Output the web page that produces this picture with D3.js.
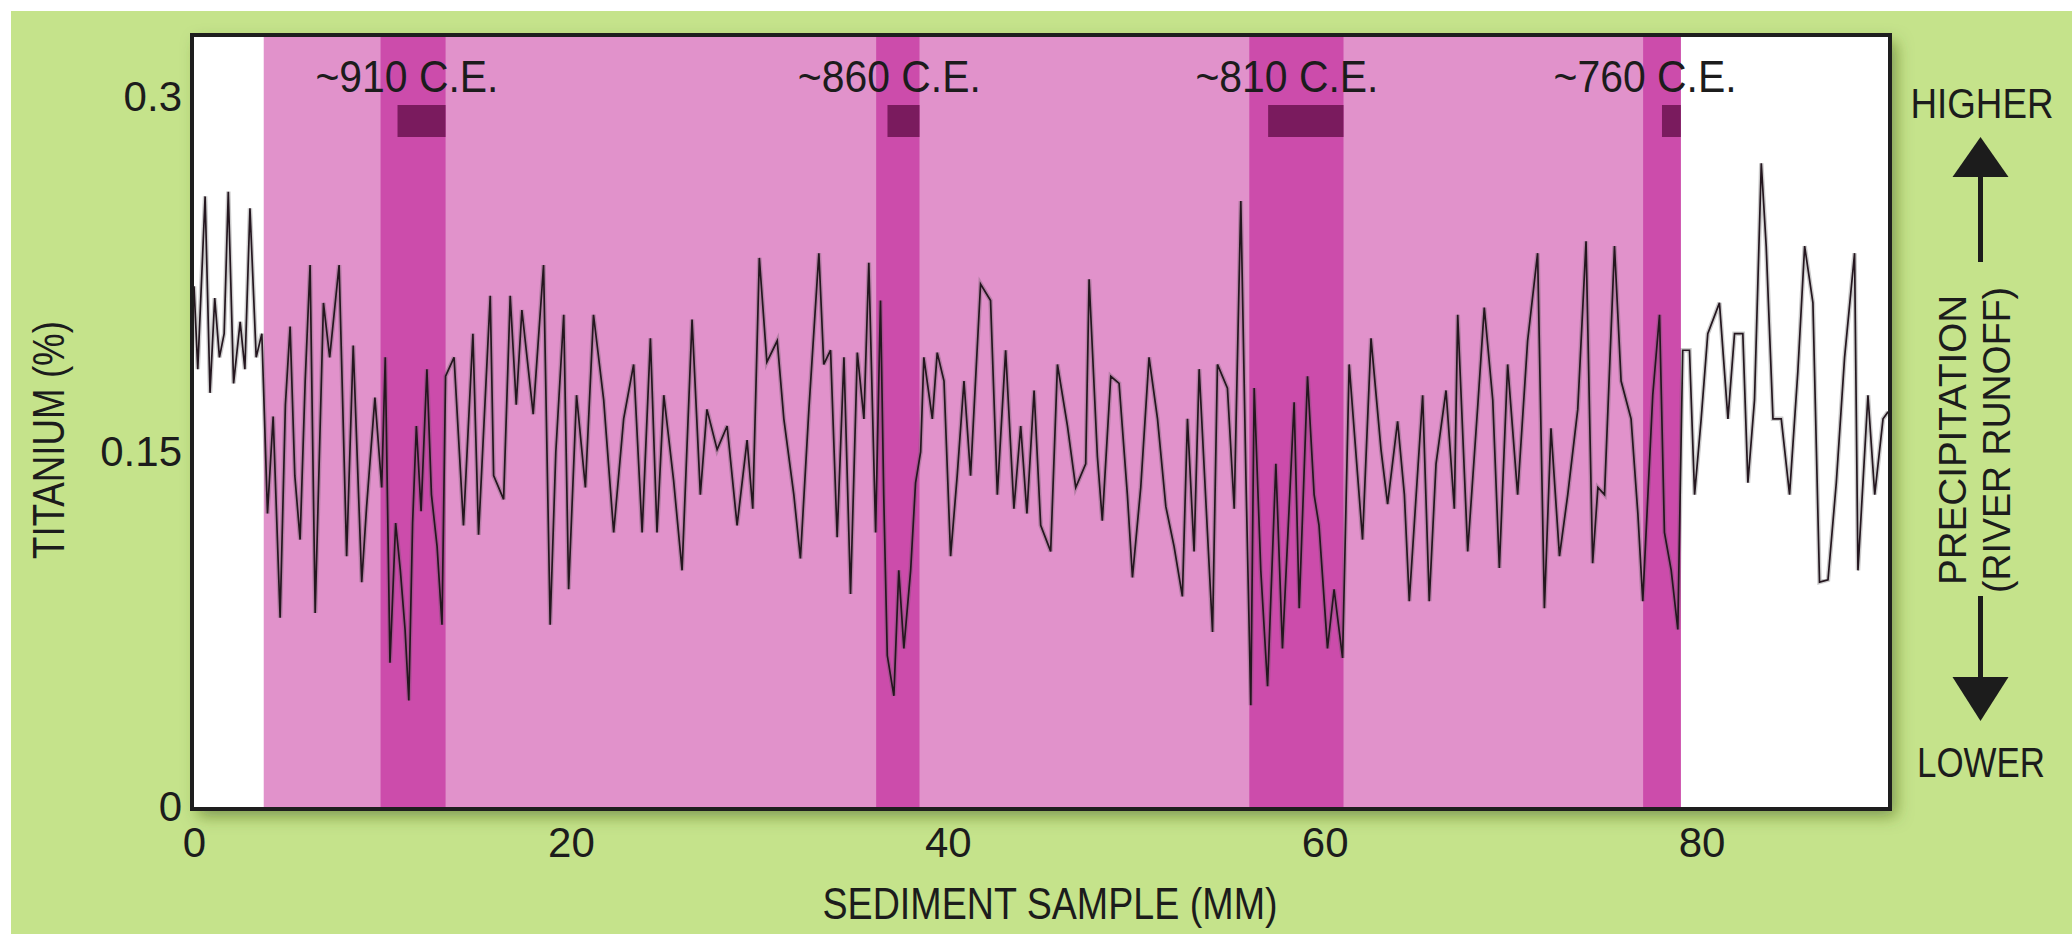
<!DOCTYPE html>
<html lang="en">
<head>
<meta charset="UTF-8">
<title>titanium</title>
<script src="https://d3js.org/d3.v7.min.js"></script>
<style>
  body { margin: 0; background: #fff; }
  text { font-family: "Liberation Sans", Arial, sans-serif; fill: #1c1c1c; }
</style>
</head>
<body>
<script>
// sediment depth (mm) and titanium (%)
var depthMM = [0.0, 0.2, 0.59, 0.85, 1.1, 1.35, 1.6, 1.82, 2.1, 2.45, 2.7, 2.97, 3.3, 3.6, 3.9, 4.2, 4.57, 4.85,
  5.1, 5.35, 5.63, 5.9, 6.16, 6.43, 6.87, 7.2, 7.7, 8.1, 8.45, 8.9, 9.16, 9.6, 9.96, 10.15, 10.4, 10.7, 10.95,
  11.2, 11.4, 11.6, 11.8, 12.05, 12.36, 12.6, 12.9, 13.16, 13.35, 13.8, 14.3, 14.8, 15.1, 15.72, 15.9, 16.43,
  16.78, 17.1, 17.4, 18.0, 18.55, 18.9, 19.2, 19.62, 19.88, 20.3, 20.77, 21.2, 21.74, 22.27, 22.8, 23.33, 23.78,
  24.22, 24.57, 24.93, 25.45, 25.9, 26.43, 26.87, 27.22, 27.76, 28.29, 28.82, 29.35, 29.65, 30.0, 30.4, 30.95,
  31.3, 31.83, 32.18, 32.63, 33.16, 33.42, 33.78, 34.13, 34.49, 34.84, 35.2, 35.55, 35.81, 36.17, 36.43, 36.6,
  36.79, 37.14, 37.4, 37.67, 38.03, 38.29, 38.56, 38.73, 39.18, 39.44, 39.8, 40.15, 40.5, 40.86, 41.21, 41.74,
  42.27, 42.63, 43.07, 43.51, 43.87, 44.2, 44.58, 44.93, 45.46, 45.82, 46.35, 46.79, 47.32, 47.5, 47.94, 48.2,
  48.65, 49.09, 49.53, 49.8, 50.24, 50.68, 51.13, 51.57, 52.01, 52.45, 52.72, 53.07, 53.34, 53.78, 54.05, 54.31,
  54.84, 55.2, 55.55, 55.82, 56.08, 56.26, 56.61, 56.97, 57.41, 57.76, 58.38, 58.65, 59.09, 59.44, 59.7, 60.15,
  60.5, 60.95, 61.3, 61.75, 62.01, 62.46, 62.99, 63.34, 63.87, 64.23, 64.49, 65.2, 65.55, 65.91, 66.44, 66.88,
  67.06, 67.59, 68.12, 68.47, 68.92, 69.27, 69.71, 70.24, 70.77, 71.3, 71.66, 72.01, 72.46, 72.9, 73.43, 73.87,
  74.22, 74.5, 74.85, 75.38, 75.73, 76.26, 76.62, 76.88, 77.41, 77.77, 78.03, 78.39, 78.74, 79.0, 79.36, 79.63,
  79.98, 80.33, 80.95, 81.4, 81.75, 82.19, 82.46, 82.81, 83.17, 83.43, 83.79, 84.23, 84.67, 85.11, 85.47, 85.91,
  86.26, 86.71, 87.15, 87.59, 88.12, 88.3, 88.83, 89.19, 89.63, 89.9];
var titanium = [0.22, 0.185, 0.258, 0.175, 0.215, 0.19, 0.2, 0.26, 0.179, 0.205, 0.185, 0.253, 0.19, 0.2, 0.124, 0.165, 0.08, 0.17,
  0.203, 0.14, 0.113, 0.18, 0.229, 0.082, 0.213, 0.19, 0.229, 0.106, 0.195, 0.095, 0.127, 0.173, 0.135, 0.19, 0.061, 0.12, 0.1,
  0.075, 0.045, 0.12, 0.161, 0.125, 0.185, 0.132, 0.11, 0.077, 0.182, 0.19, 0.119, 0.2, 0.115, 0.216, 0.14, 0.13,
  0.216, 0.17, 0.21, 0.166, 0.229, 0.077, 0.15, 0.208, 0.092, 0.174, 0.135, 0.208, 0.172, 0.116, 0.164, 0.187, 0.116,
  0.198, 0.116, 0.174, 0.138, 0.1, 0.206, 0.132, 0.168, 0.151, 0.161, 0.119, 0.155, 0.126, 0.232, 0.188, 0.197,
  0.164, 0.132, 0.105, 0.168, 0.234, 0.187, 0.193, 0.114, 0.19, 0.09, 0.192, 0.164, 0.23, 0.116, 0.214, 0.132,
  0.064, 0.047, 0.1, 0.067, 0.1, 0.137, 0.15, 0.19, 0.164, 0.192, 0.18, 0.106, 0.14, 0.18, 0.14, 0.221,
  0.214, 0.132, 0.193, 0.126, 0.161, 0.124, 0.176, 0.119, 0.108, 0.187, 0.161, 0.135, 0.145, 0.223, 0.148, 0.121,
  0.182, 0.179, 0.132, 0.097, 0.135, 0.19, 0.164, 0.127, 0.11, 0.089, 0.164, 0.108, 0.185, 0.116, 0.074, 0.187,
  0.177, 0.126, 0.256, 0.14, 0.043, 0.177, 0.1, 0.051, 0.145, 0.067, 0.171, 0.084, 0.182, 0.132, 0.119, 0.067,
  0.092, 0.063, 0.187, 0.14, 0.113, 0.198, 0.151, 0.128, 0.163, 0.132, 0.087, 0.174, 0.087, 0.145, 0.176, 0.126,
  0.208, 0.108, 0.169, 0.211, 0.172, 0.101, 0.187, 0.132, 0.197, 0.234, 0.084, 0.16, 0.106, 0.132, 0.168, 0.239,
  0.103, 0.135, 0.132, 0.237, 0.18, 0.164, 0.124, 0.087, 0.174, 0.208, 0.116, 0.1, 0.075, 0.193, 0.193, 0.132,
  0.164, 0.2, 0.213, 0.164, 0.2, 0.2, 0.137, 0.172, 0.272, 0.237, 0.164, 0.164, 0.132, 0.184, 0.237, 0.213,
  0.095, 0.096, 0.137, 0.19, 0.234, 0.1, 0.174, 0.132, 0.164, 0.167];

// shaded spans (mm)
var studySpan = [3.7, 78.9];
var droughtStart = [9.9, 36.2, 56.0, 76.9];
var droughtEnd = [13.35, 38.5, 61.0, 78.9];
var markStart = [10.8, 36.8, 57.0, 77.9];
var eraLabels = ["~910 C.E.", "~860 C.E.", "~810 C.E.", "~760 C.E."];
var eraLabelAt = [11.3, 36.9, 58.0, 77.0];

var xTicks = [0, 20, 40, 60, 80];
var yTicks = [0, 0.15, 0.3];

var width = 2072, height = 934;
var plotLeft = 194, plotRight = 1890, plotTop = 35, plotBottom = 809;

var svg = d3.select("body").append("svg")
    .attr("width", width)
    .attr("height", height);

var defs = svg.append("defs");
var shadow = defs.append("filter").attr("id", "shadow")
    .attr("x", "-5%").attr("y", "-5%").attr("width", "115%").attr("height", "125%");
shadow.append("feDropShadow")
    .attr("dx", 6).attr("dy", 7).attr("stdDeviation", 8)
    .attr("flood-color", "#3f5a14").attr("flood-opacity", 0.55);

svg.append("rect")
    .attr("x", 11).attr("y", 11)
    .attr("width", width - 11).attr("height", height - 11)
    .attr("fill", "#c5e38b");

var x = d3.scaleLinear().domain([0, 90]).range([plotLeft, plotRight]);
var y = d3.scaleLinear().domain([0, 0.3]).range([807, 97]);
var boxH = plotBottom - plotTop;

svg.append("rect")
    .attr("x", plotLeft - 2).attr("y", plotTop)
    .attr("width", plotRight - plotLeft + 2).attr("height", boxH)
    .attr("fill", "#fff")
    .attr("filter", "url(#shadow)");

svg.append("rect")
    .attr("x", x(studySpan[0])).attr("y", plotTop)
    .attr("width", x(studySpan[1]) - x(studySpan[0])).attr("height", boxH)
    .attr("fill", "#e192cb");

svg.selectAll(".band")
    .data(droughtStart)
    .enter().append("rect")
    .attr("class", "band")
    .attr("x", function (d) { return x(d); })
    .attr("y", plotTop)
    .attr("width", function (d, i) { return x(droughtEnd[i]) - x(d); })
    .attr("height", boxH)
    .attr("fill", "#cc4cab");

svg.selectAll(".mark")
    .data(markStart)
    .enter().append("rect")
    .attr("class", "mark")
    .attr("x", function (d) { return x(d); })
    .attr("y", 105)
    .attr("width", function (d, i) { return x(droughtEnd[i]) - x(d); })
    .attr("height", 32)
    .attr("fill", "#7a1b5e");

var points = depthMM.map(function (d, i) { return [d, titanium[i]]; });
var line = d3.line()
    .x(function (d) { return x(d[0]); })
    .y(function (d) { return y(d[1]); });

svg.append("path")
    .datum(points)
    .attr("d", line)
    .attr("fill", "none")
    .attr("stroke", "#555")
    .attr("stroke-opacity", 0.3)
    .attr("stroke-width", 4.5);

svg.append("path")
    .datum(points)
    .attr("d", line)
    .attr("fill", "none")
    .attr("stroke", "#24161f")
    .attr("stroke-width", 1.7);

// frame
svg.append("rect")
    .attr("x", plotLeft - 2).attr("y", plotTop)
    .attr("width", plotRight - plotLeft + 2).attr("height", boxH)
    .attr("fill", "none")
    .attr("stroke", "#1e1e1e")
    .attr("stroke-width", 4);

var xAxis = svg.append("g")
    .attr("transform", "translate(0," + plotBottom + ")")
    .call(d3.axisBottom(x).tickValues(xTicks).tickSize(0).tickPadding(18)
        .tickFormat(function (d) { return String(d); }));
var yAxis = svg.append("g")
    .attr("transform", "translate(" + (plotLeft - 2) + ",0)")
    .call(d3.axisLeft(y).tickValues(yTicks).tickSize(0).tickPadding(10)
        .tickFormat(function (d) { return String(d); }));
[xAxis, yAxis].forEach(function (g) {
    g.select(".domain").remove();
    g.selectAll("text")
        .style("font-family", "'Liberation Sans', Arial, sans-serif")
        .style("font-size", "42px")
        .attr("fill", "#1c1c1c");
});

function squeeze(sel, w) {
    sel.attr("textLength", w).attr("lengthAdjust", "spacingAndGlyphs");
}

svg.selectAll(".era")
    .data(eraLabels)
    .enter().append("text")
    .attr("class", "era")
    .attr("x", function (d, i) { return x(eraLabelAt[i]); })
    .attr("y", 92)
    .attr("text-anchor", "middle")
    .style("font-size", "44px")
    .text(function (d) { return d; })
    .call(squeeze, 183);

svg.append("text")
    .attr("x", 1050).attr("y", 919)
    .attr("text-anchor", "middle")
    .style("font-size", "45px")
    .text("SEDIMENT SAMPLE (MM)")
    .call(squeeze, 455);

svg.append("text")
    .attr("transform", "translate(64,440) rotate(-90)")
    .attr("text-anchor", "middle")
    .style("font-size", "44px")
    .text("TITANIUM (%)")
    .call(squeeze, 238);

svg.append("text")
    .attr("x", 1982).attr("y", 118)
    .attr("text-anchor", "middle")
    .style("font-size", "43px")
    .text("HIGHER")
    .call(squeeze, 143);

svg.append("text")
    .attr("x", 1981).attr("y", 777)
    .attr("text-anchor", "middle")
    .style("font-size", "42px")
    .text("LOWER")
    .call(squeeze, 128);

svg.append("text")
    .attr("transform", "translate(1966,440) rotate(-90)")
    .attr("text-anchor", "middle")
    .style("font-size", "38px")
    .text("PRECIPITATION")
    .call(squeeze, 290);

svg.append("text")
    .attr("transform", "translate(2010,440) rotate(-90)")
    .attr("text-anchor", "middle")
    .style("font-size", "38px")
    .text("(RIVER RUNOFF)")
    .call(squeeze, 306);

// arrows
var ax = 1980.5;
svg.append("path")
    .attr("d", "M" + (ax - 28) + ",177L" + (ax + 28) + ",177L" + ax + ",137Z")
    .attr("fill", "#1c1c1c");
svg.append("rect")
    .attr("x", ax - 2.5).attr("y", 175).attr("width", 5).attr("height", 87)
    .attr("fill", "#1c1c1c");
svg.append("rect")
    .attr("x", ax - 2.5).attr("y", 596).attr("width", 5).attr("height", 83)
    .attr("fill", "#1c1c1c");
svg.append("path")
    .attr("d", "M" + (ax - 28) + ",677L" + (ax + 28) + ",677L" + ax + ",721Z")
    .attr("fill", "#1c1c1c");
</script>
</body>
</html>
